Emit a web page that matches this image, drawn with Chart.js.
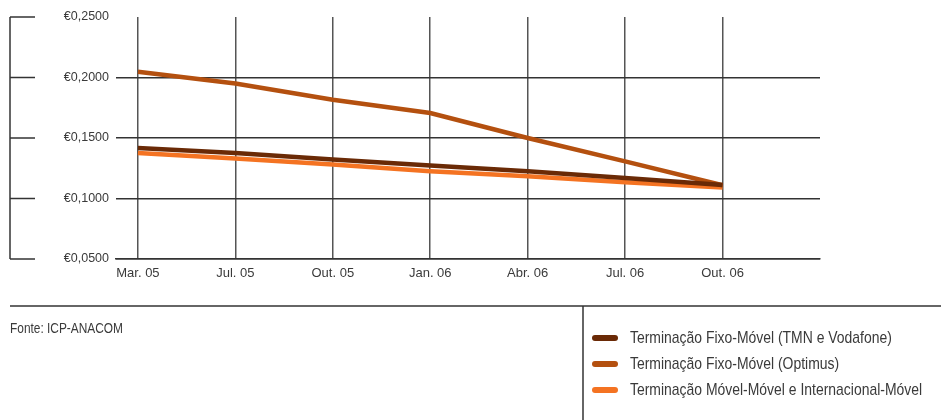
<!DOCTYPE html>
<html>
<head>
<meta charset="utf-8">
<script src="https://cdn.jsdelivr.net/npm/chart.js@4"></script>
<style>
html,body{margin:0;padding:0;background:#fff;}
#wrap{position:relative;width:941px;height:420px;overflow:hidden;}
canvas{position:absolute;left:0;top:0;}
.txt{position:absolute;font-family:"Liberation Sans",Arial,sans-serif;color:#3a3a3a;white-space:nowrap;transform:scaleX(0.82);transform-origin:0 50%;line-height:20px;}
.sw{position:absolute;width:26px;height:6px;border-radius:3px;}
</style>
</head>
<body>
<div id="wrap">
<canvas id="c" width="941" height="420"></canvas>
<div class="txt" style="left:10px;top:318px;font-size:14.5px;">Fonte: ICP-ANACOM</div>
<div id="legend"></div>
</div>
<script>
const categories = ['Mar. 05','Jul. 05','Out. 05','Jan. 06','Abr. 06','Jul. 06','Out. 06'];
const seriesNames = ['Terminação Fixo-Móvel (TMN e Vodafone)','Terminação Fixo-Móvel (Optimus)','Terminação Móvel-Móvel e Internacional-Móvel'];
const tmnVodafone = [0.1418, 0.1377, 0.1323, 0.1273, 0.1225, 0.1170, 0.1112];
const optimus     = [0.2047, 0.1950, 0.1816, 0.1707, 0.1500, 0.1307, 0.1110];
const movelMovel  = [0.1376, 0.1330, 0.1280, 0.1225, 0.1184, 0.1134, 0.1090];
const yTickValues = [0.05, 0.10, 0.15, 0.20, 0.25];
const yTickLabels = ['€0,0500','€0,1000','€0,1500','€0,2000','€0,2500'];
const colors = ['#6a2a06','#b4500f','#f47322'];

const seriesValues = [tmnVodafone, optimus, movelMovel];

// legend (HTML)
const leg = document.getElementById('legend');
seriesNames.forEach((n,i)=>{
  const y = 338 + i*26;
  const s = document.createElement('div'); s.className='sw';
  s.style.left='592px'; s.style.top=(y-3)+'px'; s.style.background=colors[i];
  leg.appendChild(s);
  const t = document.createElement('div'); t.className='txt';
  t.style.left='630px'; t.style.top=(y-10)+'px'; t.style.fontSize='17px'; t.textContent=n;
  leg.appendChild(t);
});

const decor = {
  id:'decor',
  afterDraw(chart){
    const ctx = chart.ctx, y = chart.scales.y;
    ctx.save();
    ctx.strokeStyle='#333'; ctx.lineWidth=1.5;
    const top = y.getPixelForValue(0.25), bot = y.getPixelForValue(0.05);
    ctx.beginPath(); ctx.moveTo(10, top); ctx.lineTo(10, bot); ctx.stroke();
    yTickValues.forEach(v=>{
      const p = y.getPixelForValue(v);
      ctx.beginPath(); ctx.moveTo(10,p); ctx.lineTo(35,p); ctx.stroke();
    });
    ctx.beginPath(); ctx.moveTo(10,306); ctx.lineTo(941,306); ctx.stroke();
    ctx.beginPath(); ctx.moveTo(583,306); ctx.lineTo(583,420); ctx.stroke();
    ctx.restore();
  }
};

new Chart(document.getElementById('c'), {
  type:'line',
  data:{
    datasets: seriesValues.map((vals,i)=>({
      label: seriesNames[i],
      data: vals.map((v,j)=>({x:j,y:v})),
      borderColor: colors[i],
      borderWidth: 4.5,
      pointRadius: 0,
      tension: 0,
      fill:false
    }))
  },
  options:{
    responsive:false,
    animation:false,
    layout:{padding:{top:17,right:121,left:0,bottom:0}},
    plugins:{legend:{display:false},tooltip:{enabled:false}},
    scales:{
      x:{
        type:'linear', min:-0.225, max:7,
        afterFit(s){ s.height = 420-259; },
        afterBuildTicks(s){ s.ticks = categories.map((c,i)=>({value:i})); },
        ticks:{ autoSkip:false, maxRotation:0, padding:7,
          color:'#3a3a3a',
          font:{family:'"Liberation Sans", Arial, sans-serif', size:13},
          callback:(v)=>categories[v] },
        grid:{ color:'#555', lineWidth:1.5, drawTicks:false },
        border:{ display:true, color:'#333', width:1.5 }
      },
      y:{
        min:0.05, max:0.25,
        afterFit(s){ s.width = 116; },
        afterBuildTicks(s){ s.ticks = yTickValues.map(v=>({value:v})); },
        ticks:{ padding:7, color:'#3a3a3a',
          font:{family:'"Liberation Sans", Arial, sans-serif', size:12.5},
          callback:(v)=>{ const k = yTickValues.findIndex(t=>Math.abs(t-v)<1e-9); return k>=0 ? yTickLabels[k] : ''; } },
        grid:{ color:(c)=> (c.tick && c.tick.value > 0.249) ? 'rgba(0,0,0,0)' : '#333', lineWidth:1.5, drawTicks:false },
        border:{ display:false }
      }
    }
  },
  plugins:[decor]
});
</script>
</body>
</html>
